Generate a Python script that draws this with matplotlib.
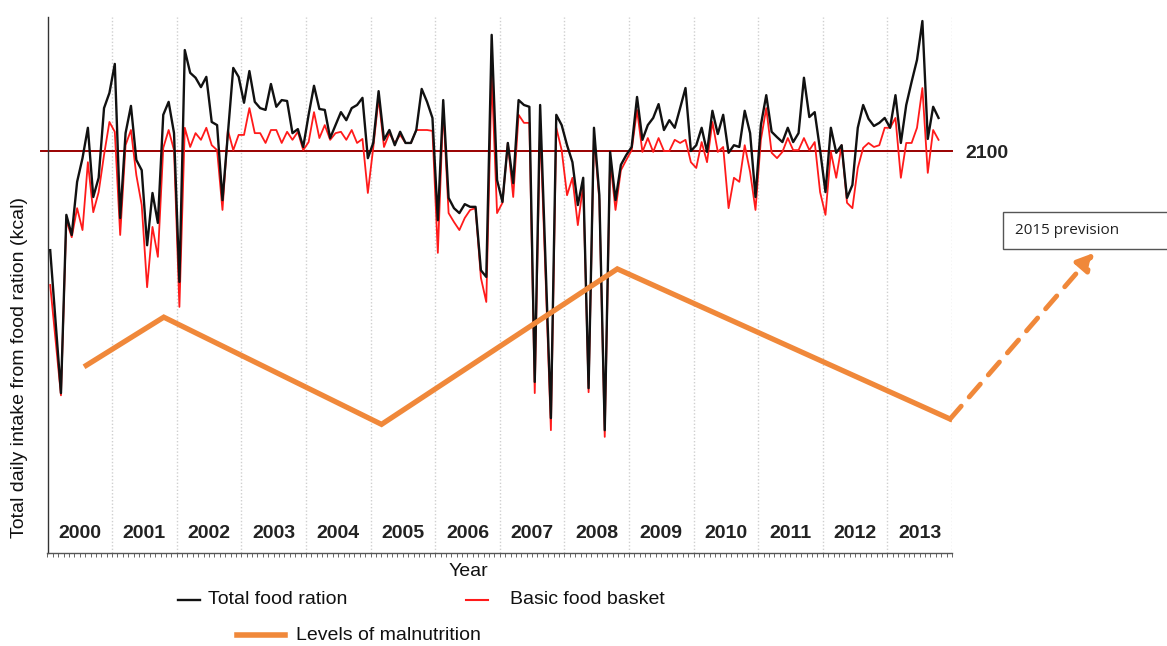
import numpy as np
import matplotlib
matplotlib.use("Agg")
import matplotlib.pyplot as plt
from matplotlib.lines import Line2D
from matplotlib.patches import Rectangle
import matplotlib.transforms as mtransforms

plt.rcParams['font.family'] = ['Liberation Sans', 'DejaVu Sans']

# ---------------- data ----------------
years = list(range(2000, 2014))
year_labels = [str(y) for y in years]

# Total food ration (kcal), monthly from Jan 2000
total_ration = [
    1878, 1717, 1558, 1957, 1912, 2031, 2084, 2152, 1997, 2040, 2196, 2230,   # 2000
    2295, 1950, 2140, 2201, 2080, 2057, 1889, 2006, 1939, 2181, 2210, 2140,   # 2001
    1807, 2326, 2275, 2264, 2243, 2266, 2165, 2158, 1990, 2138, 2286, 2266,   # 2002
    2208, 2279, 2210, 2196, 2192, 2250, 2199, 2214, 2212, 2140, 2149, 2109,   # 2003
    2181, 2246, 2194, 2192, 2129, 2158, 2187, 2169, 2196, 2203, 2219, 2084,   # 2004
    2118, 2234, 2125, 2147, 2113, 2143, 2118, 2118, 2147, 2239, 2210, 2174,   # 2005
    1945, 2214, 1995, 1972, 1961, 1981, 1975, 1975, 1833, 1818, 2360, 2035,   # 2006
    1986, 2118, 2028, 2214, 2203, 2199, 1583, 2203, 1851, 1502, 2181, 2158,   # 2007
    2113, 2075, 1979, 2040, 1569, 2152, 2001, 1475, 2098, 1990, 2069, 2091,   # 2008
    2109, 2221, 2125, 2158, 2174, 2205, 2147, 2169, 2152, 2196, 2241, 2100,   # 2009
    2113, 2152, 2098, 2190, 2138, 2181, 2096, 2113, 2109, 2190, 2140, 1997,   # 2010
    2158, 2225, 2143, 2131, 2120, 2152, 2120, 2140, 2264, 2176, 2187, 2102,   # 2011
    2008, 2152, 2096, 2113, 1995, 2024, 2152, 2203, 2172, 2156, 2163, 2174,   # 2012
    2152, 2225, 2118, 2203, 2255, 2304, 2391, 2127, 2199, 2174,               # 2013
]

# Basic food basket (kcal), monthly from Jan 2000
basic_basket = [
    1800, 1677, 1553, 1945, 1907, 1972, 1923, 2075, 1963, 2008, 2091, 2165,   # 2000
    2143, 1912, 2113, 2147, 2046, 1979, 1795, 1930, 1863, 2107, 2147, 2102,   # 2001
    1751, 2152, 2109, 2140, 2125, 2152, 2113, 2102, 1968, 2147, 2102, 2136,   # 2002
    2136, 2196, 2140, 2140, 2118, 2147, 2147, 2118, 2143, 2125, 2143, 2102,   # 2003
    2120, 2187, 2129, 2158, 2125, 2140, 2143, 2125, 2147, 2118, 2127, 2006,   # 2004
    2107, 2219, 2109, 2140, 2118, 2136, 2118, 2118, 2147, 2147, 2147, 2145,   # 2005
    1872, 2196, 1961, 1941, 1923, 1950, 1968, 1972, 1816, 1762, 2270, 1961,   # 2006
    1984, 2118, 1997, 2181, 2163, 2163, 1558, 2158, 1822, 1475, 2152, 2102,   # 2007
    2001, 2040, 1934, 2024, 1560, 2136, 1990, 1460, 2080, 1968, 2057, 2080,   # 2008
    2102, 2192, 2098, 2129, 2098, 2129, 2100, 2100, 2125, 2118, 2125, 2075,   # 2009
    2062, 2120, 2075, 2165, 2098, 2109, 1972, 2040, 2031, 2113, 2053, 1968,   # 2010
    2125, 2196, 2096, 2084, 2098, 2129, 2102, 2102, 2129, 2102, 2120, 2008,   # 2011
    1957, 2098, 2040, 2113, 1984, 1972, 2062, 2107, 2118, 2109, 2113, 2152,   # 2012
    2152, 2174, 2040, 2118, 2118, 2152, 2241, 2051, 2147, 2125,               # 2013
]

threshold = 2100

# Levels of malnutrition (relative level, 0-100 scale of the secondary axis)
maln_x = [2000.6, 2001.8, 2005.17, 2008.82, 2013.97]
maln_level = [35, 44, 24, 53, 25]
prev_x = 2016.2          # 2015 prevision arrow target
prev_level = 56

# ---------------- figure ----------------
W, H = 1167, 646
fig = plt.figure(figsize=(W / 100, H / 100), dpi=100)
ax_left, ax_right, ax_top, ax_bot = 47.5, 952, 17, 553
ax = fig.add_axes([ax_left / W, 1 - ax_bot / H, (ax_right - ax_left) / W, (ax_bot - ax_top) / H])

n = len(total_ration)
xs = 2000 + (np.arange(n) + 0.5) / 12

ax.set_xlim(2000, 2014)
ax.set_ylim(1200, 2400)

# year separators
for yv in range(2001, 2015):
    ax.axvline(yv, color='#cfcfcf', lw=1.0, ls=(0, (1, 1.5)), zorder=0)

ax.axhline(threshold, xmin=-0.007, xmax=1.0, color='#9a0000', lw=1.4, clip_on=False, zorder=2)

ax.plot(xs, basic_basket[:n], color='#ff1a1a', lw=1.3, zorder=3)
ax.plot(xs, total_ration, color='#111111', lw=1.7, zorder=4)

# spines and ticks
for s in ['top', 'right']:
    ax.spines[s].set_visible(False)
ax.spines['left'].set_color('#333333')
ax.spines['left'].set_linewidth(1.0)
ax.spines['bottom'].set_color('#555555')
ax.spines['bottom'].set_linewidth(1.0)
ax.set_yticks([])
ax.set_xticks([])
ax.set_xticks(2000 + np.arange(0, 14 * 12 + 1) / 12, minor=True)
ax.tick_params(axis='x', which='minor', length=3, width=0.7, color='#666666', direction='out')

# year labels inside the axes
trans = mtransforms.blended_transform_factory(ax.transData, ax.transAxes)
for yv, lab in zip(years, year_labels):
    ax.text(yv + 0.5, (ax_bot - 533) / (ax_bot - ax_top), lab, transform=trans,
            ha='center', va='center', fontsize=14, fontweight='bold', color='#222222')

# malnutrition on secondary axis
ax2 = ax.twinx()
ax2.set_ylim(0, 100)
ax2.set_xlim(2000, 2014)
ax2.axis('off')
orange = '#f0883a'
ax2.plot(maln_x, maln_level, color=orange, lw=3.8, solid_joinstyle='miter', zorder=5)
ax2.annotate('', xy=(prev_x, prev_level), xytext=(maln_x[-1], maln_level[-1]),
             arrowprops=dict(arrowstyle='-|>,head_length=1.0,head_width=0.55', lw=3.5,
                             ls=(0, (3.5, 2.5)), color=orange, shrinkA=0, shrinkB=0),
             annotation_clip=False)

# texts
fig.text(965 / W, 1 - 153 / H, '2100', fontsize=14, fontweight='bold', color='#222222',
         ha='left', va='center')
fig.text(20 / W, 1 - 367 / H, 'Total daily intake from food ration (kcal)', rotation=90,
         fontsize=14, ha='center', va='center', color='#111111')
fig.text(468 / W, 1 - 571 / H, 'Year', fontsize=14, ha='center', va='center', color='#111111')

# 2015 prevision box
fig.add_artist(Rectangle((1003 / W, 1 - 249 / H), 200 / W, 37 / H, transform=fig.transFigure,
                         facecolor='white', edgecolor='#555555', lw=1.0))
fig.text(1015 / W, 1 - 230 / H, '2015 prevision', fontsize=11, ha='left', va='center',
         family=['Open Sans', 'DejaVu Sans'], color='#222222')

# legend (manual)
def leg(x0, x1, y, color, lw, label, tx):
    fig.add_artist(Line2D([x0 / W, x1 / W], [1 - y / H, 1 - y / H], color=color, lw=lw,
                          transform=fig.transFigure))
    fig.text(tx / W, 1 - y / H, label, fontsize=14, ha='left', va='center', color='#111111')

leg(178, 200, 600, '#111111', 1.7, 'Total food ration', 208)
leg(466, 488, 600, '#ff1a1a', 1.5, 'Basic food basket', 510)
leg(237, 285, 635, orange, 4.0, 'Levels of malnutrition', 296)

fig.savefig('out.png', dpi=100)
